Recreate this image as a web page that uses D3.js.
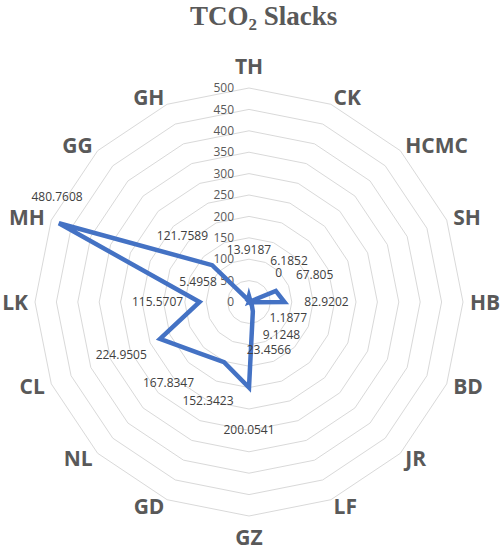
<!DOCTYPE html>
<html><head><meta charset="utf-8">
<script src="https://cdn.jsdelivr.net/npm/d3@7"></script>
<style>body{margin:0;background:#fff}svg{display:block}</style>
</head><body>
<script>
const categories = ["TH","CK","HCMC","SH","HB","BD","JR","LF","GZ","GD","NL","CL","LK","MH","GG","GH"];
const values = [13.9187,6.1852,0,67.805,82.9202,1.1877,9.1248,23.4566,200.0541,152.3423,167.8347,224.9505,115.5707,480.7608,121.7589,5.4958];
const tickValues = [0,50,100,150,200,250,300,350,400,450,500];

// label nudges (styling, keyed by category)
const labelNudge = {TH:[0,-4], CK:[23,0], GH:[-34,21], MH:[37,-10]};

const W = 501, H = 550, cx = 249, cy = 302, R = 214;
const svg = d3.select("body").append("svg").attr("width", W).attr("height", H);

const r = d3.scaleLinear().domain([0, 500]).range([0, R]);
const ang = d3.scalePoint().domain(categories).range([0, 2*Math.PI*(categories.length-1)/categories.length]);
const pt = (c, v) => { const a = ang(c); return [cx + r(v)*Math.sin(a), cy - r(v)*Math.cos(a)]; };

// title
const t = svg.append("text").attr("x", 190).attr("y", 25)
  .attr("font-family", "Liberation Serif, serif").attr("font-weight", "bold")
  .attr("font-size", 27).attr("fill", "#595959");
t.append("tspan").text("TCO");
t.append("tspan").attr("font-size", 17).attr("dy", 5).text("2");
t.append("tspan").attr("dy", -5).text(" Slacks");

// grid rings
svg.append("g").selectAll("polygon").data(tickValues.filter(d => d > 0)).join("polygon")
  .attr("points", v => categories.map(c => pt(c, v).join(",")).join(" "))
  .attr("fill", "none").attr("stroke", "#d9d9d9").attr("stroke-width", 1);

// tick labels
svg.append("g").selectAll("text").data(tickValues).join("text")
  .attr("x", cx - 15).attr("y", v => cy - r(v)).attr("dy", "0.35em")
  .attr("text-anchor", "end").attr("font-family", "Open Sans, sans-serif")
  .attr("font-size", 12).attr("fill", "#595959").text(v => v);

// category labels: edge nearest the chart sits on a circle just outside the grid
const LR = 221;
svg.append("g").selectAll("text").data(categories).join("text")
  .each(function(c) {
    const a = ang(c), s = Math.sin(a), co = Math.cos(a);
    const x = cx + LR * s, y = cy - LR * co;
    const el = d3.select(this);
    if (Math.abs(s) < 1e-6) {
      el.attr("x", x).attr("text-anchor", "middle")
        .attr("y", co > 0 ? cy - 228 : cy + 228 + 15);
    } else {
      el.attr("x", x).attr("y", y).attr("dy", "0.36em")
        .attr("text-anchor", s > 0 ? "start" : "end");
    }
  })
  .attr("font-family", "Open Sans, sans-serif").attr("font-weight", "bold")
  .attr("font-size", 21).attr("fill", "#595959").text(c => c);

// data line
const line = d3.lineRadial().angle(d => ang(d.c)).radius(d => r(d.v)).curve(d3.curveLinearClosed);
const data = categories.map((c, i) => ({c, v: values[i]}));
svg.append("path").attr("transform", `translate(${cx},${cy})`)
  .attr("d", line(data)).attr("fill", "none").attr("stroke", "#4472c4")
  .attr("stroke-width", 4.5).attr("stroke-linejoin", "miter");

// data labels
svg.append("g").selectAll("text").data(data).join("text")
  .attr("x", d => cx + (r(d.v) + 42) * Math.sin(ang(d.c)) + (labelNudge[d.c] ? labelNudge[d.c][0] : 0))
  .attr("y", d => cy - (r(d.v) + 42) * Math.cos(ang(d.c)) + (labelNudge[d.c] ? labelNudge[d.c][1] : 0))
  .attr("dy", "0.35em").attr("text-anchor", "middle")
  .attr("font-family", "Open Sans, sans-serif").attr("font-size", 12)
  .attr("fill", "#404040").text(d => d.v);
</script>
</body></html>
